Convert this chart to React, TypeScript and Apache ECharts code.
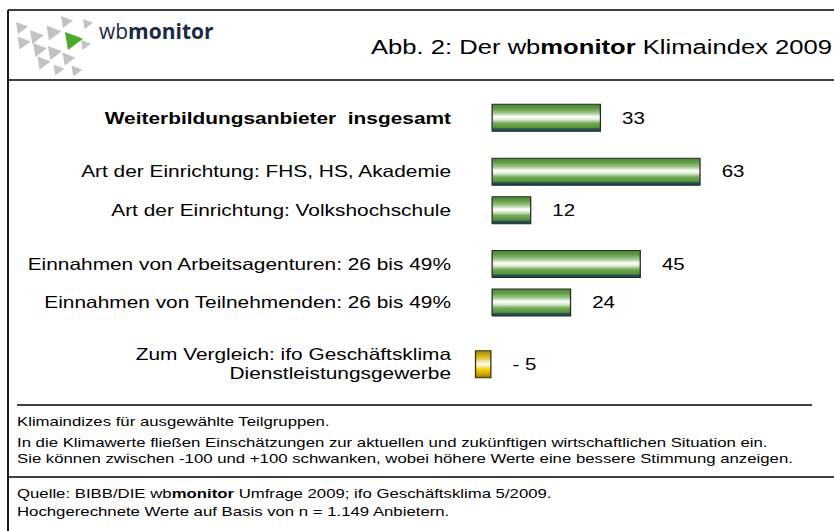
import React, { useEffect, useRef } from "react";
import * as echarts from "echarts";

// slot indices on a fine category grid (blank slots give the group gaps)
const slotCount = 33;
const slotIndex = [0, 7, 12, 19, 24, 32];
const categories = [
  "Weiterbildungsanbieter  insgesamt",
  "Art der Einrichtung: FHS, HS, Akademie",
  "Art der Einrichtung: Volkshochschule",
  "Einnahmen von Arbeitsagenturen: 26 bis 49%",
  "Einnahmen von Teilnehmenden: 26 bis 49%",
  "Zum Vergleich: ifo Geschäftsklima\nDienstleistungsgewerbe",
];
const values = [33, 63, 12, 45, 24, -5];
const isComparison = [false, false, false, false, false, true];
const isBold = [true, false, false, false, false, false];

const titleParts = ["Abb. 2: Der wb", "monitor", " Klimaindex 2009"];
const noteLines = [
  "Klimaindizes für ausgewählte Teilgruppen.",
  "In die Klimawerte fließen Einschätzungen zur aktuellen und zukünftigen wirtschaftlichen Situation ein.",
  "Sie können zwischen -100 und +100 schwanken, wobei höhere Werte eine bessere Stimmung anzeigen.",
];
const sourceLines = [
  ["Quelle: BIBB/DIE wb", "monitor", " Umfrage 2009; ifo Geschäftsklima 5/2009."],
  ["Hochgerechnete Werte auf Basis von n = 1.149 Anbietern.", "", ""],
];

const FONT = "'Liberation Sans', Arial, Helvetica, sans-serif";
// the original figure is horizontally stretched
const S = 1.28;
const W = 834 / S;
const X = (px: number) => px / S;

const greenGrad = () =>
  new echarts.graphic.LinearGradient(0, 0, 0, 1, [
    { offset: 0, color: "#4a8636" },
    { offset: 0.15, color: "#5f9c44" },
    { offset: 0.32, color: "#9fc78b" },
    { offset: 0.46, color: "#ffffff" },
    { offset: 0.56, color: "#e0edd6" },
    { offset: 0.7, color: "#72aa55" },
    { offset: 0.86, color: "#56913c" },
    { offset: 0.9, color: "#2c5c4c" },
    { offset: 1, color: "#123c5a" },
  ]);
const yellowGrad = () =>
  new echarts.graphic.LinearGradient(0, 0, 0, 1, [
    { offset: 0, color: "#a88600" },
    { offset: 0.25, color: "#d9bb2a" },
    { offset: 0.5, color: "#ffffff" },
    { offset: 0.7, color: "#f2cf00" },
    { offset: 0.9, color: "#c49e00" },
    { offset: 1, color: "#866a00" },
  ]);

// logo triangles (right-pointing), [cx, cy, size, colour]
const logoTris: [number, number, number, string][] = [
  [22, 28, 12, "#c2c2c2"],
  [24, 43, 13, "#c2c2c2"],
  [37, 37, 14, "#c2c2c2"],
  [40, 50, 14, "#c2c2c2"],
  [54, 33, 15, "#c2c2c2"],
  [67, 22, 12, "#c2c2c2"],
  [88, 24, 10, "#c2c2c2"],
  [55, 53, 14, "#c2c2c2"],
  [44, 63, 13, "#c2c2c2"],
  [69, 59, 13, "#c2c2c2"],
  [86, 45, 10, "#c2c2c2"],
  [77, 71, 11, "#c2c2c2"],
  [59, 70, 11, "#c2c2c2"],
  [74, 41, 18, "#4aa82a"],
];

export default function App() {
  const ref = useRef<HTMLDivElement>(null);
  useEffect(() => {
    if (!ref.current) return;
    const chart = echarts.init(ref.current, undefined, { renderer: "svg" });

    const catData: string[] = new Array(slotCount).fill("");
    const barData: any[] = new Array(slotCount).fill("-");
    slotIndex.forEach((s, i) => {
      catData[s] = categories[i];
      barData[s] = {
        value: values[i],
        itemStyle: {
          color: isComparison[i] ? yellowGrad() : greenGrad(),
          borderColor: isComparison[i] ? "#3d3000" : "#2a2a2a",
          borderWidth: 1,
        },
      };
    });

    const graphics: any[] = [];
    const ln = (x1: number, y1: number, x2: number, y2: number) =>
      graphics.push({
        type: "line",
        shape: { x1: X(x1), y1, x2: X(x2), y2 },
        style: { stroke: "#000", lineWidth: 1.4 },
        silent: true,
      });
    ln(8, 10, 834, 10);
    ln(8, 10, 8, 531);
    ln(8, 80, 834, 80);
    ln(17, 405, 812, 405);
    ln(8, 477, 834, 477);

    // logo drawn in unstretched pixel coordinates
    const logoChildren: any[] = logoTris.map(([cx, cy, s, c]) => ({
      type: "polygon",
      shape: {
        points: [
          [cx - s / 2, cy - s / 2],
          [cx + s / 2, cy - s / 8],
          [cx - s / 3, cy + s / 2],
        ],
      },
      style: { fill: c },
      silent: true,
    }));
    logoChildren.push({
      type: "text",
      x: 99,
      y: 31,
      style: {
        text: "{l|wb}{b|monitor}",
        verticalAlign: "middle",
        rich: {
          l: { fontFamily: "'Open Sans', sans-serif", fontSize: 21, fill: "#1b2847", fontWeight: "normal" },
          b: { fontFamily: "'Open Sans', sans-serif", fontSize: 21, fill: "#1b2847", fontWeight: "bold" },
        },
      },
    });
    graphics.push({ type: "group", scaleX: 1 / S, children: logoChildren });

    graphics.push({
      type: "text",
      x: X(832),
      y: 47,
      style: {
        text: `{n|${titleParts[0]}}{b|${titleParts[1]}}{n|${titleParts[2]}}`,
        align: "right",
        verticalAlign: "middle",
        rich: {
          n: { fontFamily: FONT, fontSize: 20, fill: "#000" },
          b: { fontFamily: FONT, fontSize: 20, fill: "#000", fontWeight: "bold" },
        },
      },
    });
    const noteY = [421, 442, 458];
    noteLines.forEach((t, i) =>
      graphics.push({
        type: "text",
        x: X(17),
        y: noteY[i],
        style: { text: t, fontFamily: FONT, fontSize: 13.1, fill: "#000", verticalAlign: "middle" },
      })
    );
    const srcY = [493, 511];
    sourceLines.forEach((p, i) =>
      graphics.push({
        type: "text",
        x: X(17),
        y: srcY[i],
        style: {
          text: `{n|${p[0]}}` + (p[1] ? `{b|${p[1]}}` : "") + (p[2] ? `{n|${p[2]}}` : ""),
          verticalAlign: "middle",
          rich: {
            n: { fontFamily: FONT, fontSize: 13.1, fill: "#000" },
            b: { fontFamily: FONT, fontSize: 13.1, fill: "#000", fontWeight: "bold" },
          },
        },
      })
    );

    const zeroX = X(491.5);
    const unit = X(3.32);
    const xMin = -6;
    const xMax = 84;
    const gridLeft = zeroX + xMin * unit;

    chart.setOption({
      animation: false,
      backgroundColor: "#fff",
      grid: { left: gridLeft, top: 114, width: (xMax - xMin) * unit, height: 254, containLabel: false },
      xAxis: {
        type: "value",
        min: xMin,
        max: xMax,
        show: false,
      },
      yAxis: {
        type: "category",
        inverse: true,
        data: catData,
        axisLine: { show: false, onZero: false },
        axisTick: { show: false },
        splitLine: { show: false },
        axisLabel: {
          interval: 0,
          margin: gridLeft - X(451),
          align: "right",
          formatter: (v: string) => {
            const i = categories.indexOf(v);
            if (i < 0) return "";
            return isBold[i] ? `{b|${v}}` : `{n|${v}}`;
          },
          rich: {
            n: { fontFamily: FONT, fontSize: 16.3, color: "#000", lineHeight: 19, align: "right" },
            b: { fontFamily: FONT, fontSize: 16.3, color: "#000", fontWeight: "bold", align: "right" },
          },
        },
      },
      series: [
        {
          type: "bar",
          data: barData,
          barWidth: 28,
          clip: false,
          label: {
            show: true,
            position: "right",
            distance: X(21),
            fontFamily: FONT,
            fontSize: 16,
            color: "#000",
            formatter: (p: any) => (p.value < 0 ? `- ${Math.abs(p.value)}` : `${p.value}`),
          },
        },
      ],
      graphic: graphics,
    });
    return () => chart.dispose();
  }, []);
  return (
    <div
      ref={ref}
      style={{
        position: "absolute",
        left: 0,
        top: 0,
        width: W,
        height: 531,
        background: "#fff",
        transform: `scaleX(${S})`,
        transformOrigin: "0 0",
      }}
    />
  );
}
